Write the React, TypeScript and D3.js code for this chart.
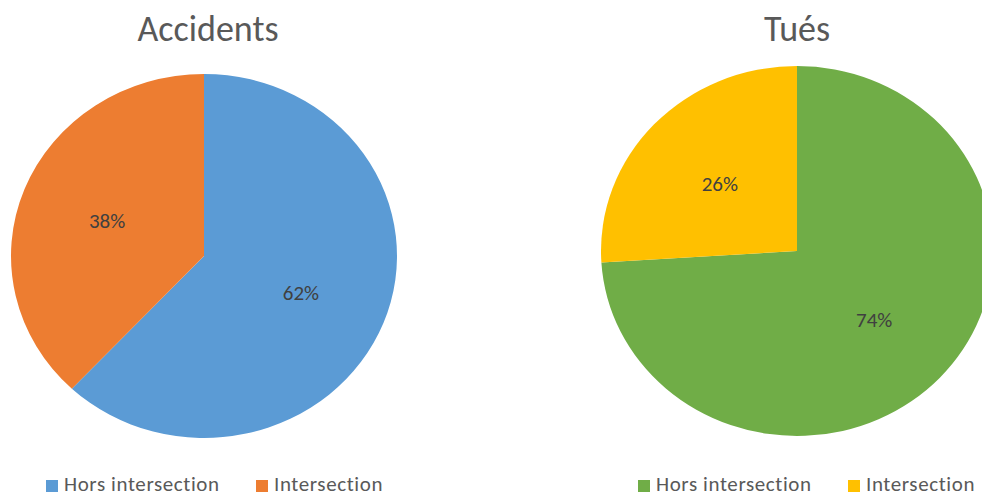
import { useEffect, useRef } from "react";
import * as d3 from "d3";

// data
const categories = ["Hors intersection", "Intersection"];
const accidentsValues = [62, 38];
const tuesValues = [74, 26];
const titles = ["Accidents", "Tués"];
const accidentsColors = ["#5B9BD5", "#ED7D31"];
const tuesColors = ["#70AD47", "#FFC000"];

const W = 982;
const H = 494;
const FONT = "Calibri, Carlito, 'Noto Sans', sans-serif";

export default function App() {
  const ref = useRef<SVGSVGElement>(null);

  useEffect(() => {
    const svg = d3.select(ref.current);
    svg.selectAll("*").remove();

    const charts = [
      { title: titles[0], values: accidentsValues, colors: accidentsColors, cx: 204, cy: 256, rx: 193, ry: 182, titleX: 208, legendX: 46 },
      { title: titles[1], values: tuesValues, colors: tuesColors, cx: 797, cy: 251, rx: 196, ry: 185, titleX: 797, legendX: 638 },
    ];

    const pie = d3.pie<number>().sort(null).value((d) => d);

    charts.forEach((c) => {
      const g = svg.append("g");

      g.append("text")
        .attr("x", c.titleX)
        .attr("y", 41)
        .attr("text-anchor", "middle")
        .attr("font-family", FONT)
        .attr("font-size", 36)
        .attr("fill", "#595959")
        .text(c.title);

      const arcs = pie(c.values);
      const arc = d3.arc<d3.PieArcDatum<number>>().innerRadius(0).outerRadius(c.ry);
      const labelArc = d3
        .arc<d3.PieArcDatum<number>>()
        .innerRadius(c.ry * 0.54)
        .outerRadius(c.ry * 0.54);
      const sx = c.rx / c.ry;

      const pg = g.append("g").attr("transform", `translate(${c.cx},${c.cy}) scale(${sx},1)`);
      pg.selectAll("path")
        .data(arcs)
        .enter()
        .append("path")
        .attr("d", arc)
        .attr("fill", (d, i) => c.colors[i]);

      g.selectAll("text.lbl")
        .data(arcs)
        .enter()
        .append("text")
        .attr("class", "lbl")
        .attr("x", (d) => c.cx + labelArc.centroid(d)[0] * sx)
        .attr("y", (d) => c.cy + labelArc.centroid(d)[1] + 8)
        .attr("text-anchor", "middle")
        .attr("font-family", FONT)
        .attr("font-size", 21)
        .attr("fill", "#404040")
        .text((d) => d.data + "%");

      // legend
      const legendStep = [0, 210];
      categories.forEach((cat, i) => {
        const lx = c.legendX + legendStep[i];
        g.append("rect")
          .attr("x", lx)
          .attr("y", 480)
          .attr("width", 12)
          .attr("height", 12)
          .attr("fill", c.colors[i]);
        g.append("text")
          .attr("x", lx + 18)
          .attr("y", 491)
          .attr("font-family", FONT)
          .attr("font-size", 21)
          .attr("letter-spacing", 0.6)
          .attr("fill", "#595959")
          .text(cat);
      });
    });
  }, []);

  return (
    <svg
      ref={ref}
      width={W}
      height={H}
      style={{ position: "absolute", left: 0, top: 0, background: "#fff" }}
    />
  );
}
